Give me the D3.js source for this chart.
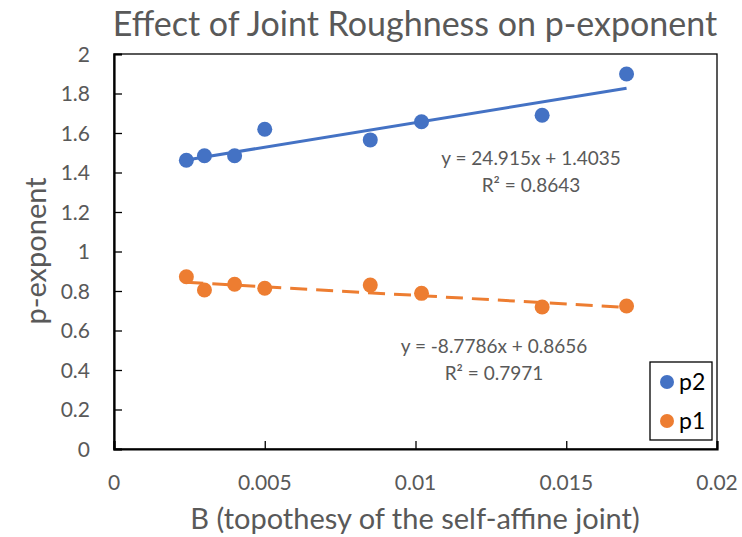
<!DOCTYPE html>
<html>
<head>
<meta charset="utf-8">
<script src="https://cdn.jsdelivr.net/npm/d3@7/dist/d3.min.js"></script>
<style>
  html, body { margin: 0; padding: 0; background: #fff; }
  svg { display: block; font-family: Lato, "Open Sans", sans-serif; }
</style>
</head>
<body>
<svg id="chart" width="742" height="537"></svg>
<script>
// Topothesy B of each joint profile
const topothesy = [0.0024, 0.003, 0.004, 0.005, 0.0085, 0.0102, 0.0142, 0.017];
// p-exponents for the two series
const p2Values = [1.462, 1.485, 1.485, 1.619, 1.565, 1.657, 1.690, 1.899];
const p1Values = [0.872, 0.805, 0.834, 0.814, 0.830, 0.788, 0.719, 0.724];
// Linear trendline coefficients
const p2Fit = { slope: 24.915, intercept: 1.4035, r2: 0.8643 };
const p1Fit = { slope: -8.7786, intercept: 0.8656, r2: 0.7971 };
// Axis ticks
const xTicks = [0, 0.005, 0.01, 0.015, 0.02];
const yTicks = [0, 0.2, 0.4, 0.6, 0.8, 1, 1.2, 1.4, 1.6, 1.8, 2];

const blue = "#4472C4", orange = "#ED7D31", grey = "#595959";
const svg = d3.select("#chart");
const plot = { left: 114, right: 717, top: 54, bottom: 449 };

const x = d3.scaleLinear().domain([0, 0.02]).range([plot.left, plot.right]);
const y = d3.scaleLinear().domain([0, 2]).range([plot.bottom, plot.top]);

// Title
svg.append("text").attr("x", 415).attr("y", 36).attr("text-anchor", "middle")
  .attr("font-size", 34).attr("fill", grey).text("Effect of Joint Roughness on p-exponent");

// Plot frame
svg.append("rect").attr("x", plot.left).attr("y", plot.top)
  .attr("width", plot.right - plot.left).attr("height", plot.bottom - plot.top)
  .attr("fill", "none").attr("stroke", "#000").attr("stroke-width", 1.3);

// Axes with inward ticks
const yAxis = svg.append("g").attr("transform", `translate(${plot.left},0)`)
  .call(d3.axisRight(y).tickValues(yTicks).tickSize(8).tickFormat(""));
const xAxis = svg.append("g").attr("transform", `translate(0,${plot.bottom})`)
  .call(d3.axisTop(x).tickValues(xTicks).tickSize(8).tickFormat(""));
[yAxis, xAxis].forEach(g => {
  g.select(".domain").attr("stroke", "#000").attr("stroke-width", 2.2);
  g.selectAll(".tick line").attr("stroke", "#000").attr("stroke-width", 1.3);
});

// Tick labels
svg.append("g").selectAll("text").data(yTicks).join("text")
  .attr("x", 90).attr("y", d => y(d) + 7.5).attr("text-anchor", "end")
  .attr("font-size", 21).attr("fill", grey).text(d => d3.format("~g")(d));
svg.append("g").selectAll("text").data(xTicks).join("text")
  .attr("x", d => x(d)).attr("y", 490).attr("text-anchor", "middle")
  .attr("font-size", 21).attr("fill", grey).text(d => d3.format("~g")(d));

// Axis titles
svg.append("text").attr("x", 415).attr("y", 529).attr("text-anchor", "middle")
  .attr("font-size", 29).attr("fill", grey).text("B (topothesy of the self-affine joint)");
svg.append("text").attr("transform", "translate(46,251) rotate(-90)").attr("text-anchor", "middle")
  .attr("font-size", 29).attr("fill", grey).text("p-exponent");

// Trendlines across the data range
const xExt = d3.extent(topothesy);
function trend(fit, color, dash) {
  svg.append("line")
    .attr("x1", x(xExt[0])).attr("y1", y(fit.intercept + fit.slope * xExt[0]))
    .attr("x2", x(xExt[1])).attr("y2", y(fit.intercept + fit.slope * xExt[1]))
    .attr("stroke", color).attr("stroke-width", 3)
    .attr("stroke-dasharray", dash);
}
trend(p2Fit, blue, null);
trend(p1Fit, orange, "17,9");

// Markers
function markers(vals, color) {
  svg.append("g").selectAll("circle").data(vals).join("circle")
    .attr("cx", (d, i) => x(topothesy[i])).attr("cy", d => y(d))
    .attr("r", 7.5).attr("fill", color);
}
markers(p1Values, orange);
markers(p2Values, blue);

// Trendline equations
function equation(fit, cx, cy) {
  const sign = fit.intercept >= 0 ? "+" : "-";
  const g = svg.append("g").attr("font-size", 19).attr("fill", grey).attr("text-anchor", "middle");
  g.append("text").attr("x", cx).attr("y", cy)
    .text(`y = ${fit.slope}x ${sign} ${Math.abs(fit.intercept)}`);
  g.append("text").attr("x", cx).attr("y", cy + 27)
    .text(`R² = ${fit.r2}`);
}
equation(p2Fit, 531, 165);
equation(p1Fit, 494, 353);

// Legend
const legend = svg.append("g");
legend.append("rect").attr("x", 650).attr("y", 362).attr("width", 62).attr("height", 78)
  .attr("fill", "#fff").attr("stroke", "#000").attr("stroke-width", 1.3);
[["p2", blue, 382], ["p1", orange, 421]].forEach(([name, color, cy]) => {
  legend.append("circle").attr("cx", 667).attr("cy", cy).attr("r", 7).attr("fill", color);
  legend.append("text").attr("x", 679).attr("y", cy + 8).attr("font-size", 23)
    .attr("fill", "#000").text(name);
});
</script>
</body>
</html>
